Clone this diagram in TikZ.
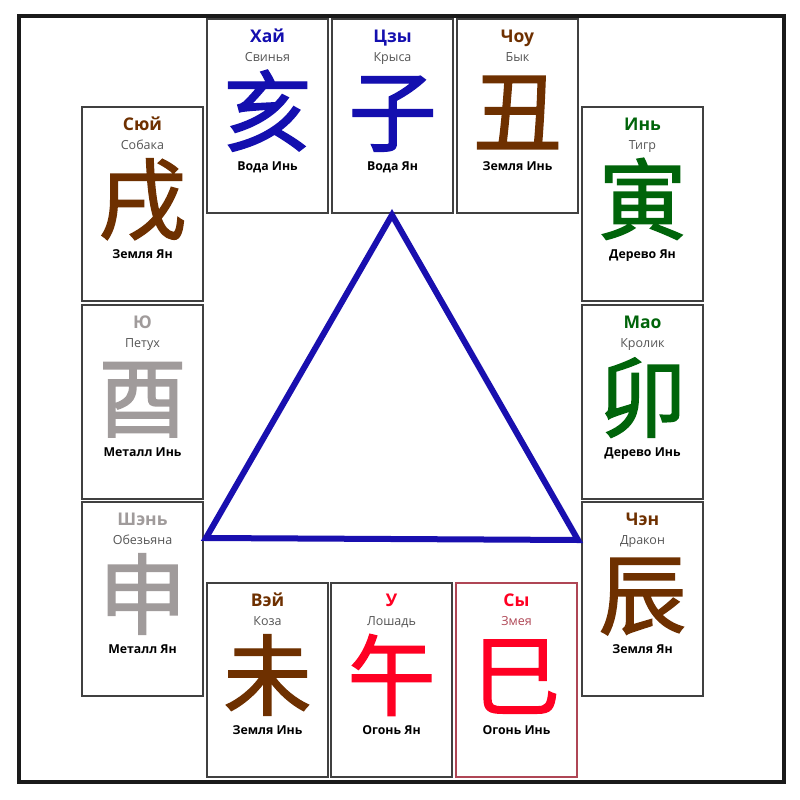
\documentclass[tikz,border=0pt]{standalone}
\usepackage{fontspec}
\setmainfont{Open Sans}
\newfontfamily\cjk{Noto Sans CJK SC}[FakeBold=1.6]
\definecolor{zblue}{RGB}{20,15,175}
\definecolor{zbrown}{RGB}{110,48,0}
\definecolor{zgreen}{RGB}{0,100,10}
\definecolor{zgray}{RGB}{160,155,155}
\definecolor{zred}{RGB}{255,0,35}
\definecolor{zsub}{RGB}{85,85,85}
\definecolor{zsnake}{RGB}{175,70,85}
\definecolor{ztri}{RGB}{25,15,175}
\definecolor{zframe}{RGB}{26,26,26}
\tikzset{
  cardbox/.style={draw=black!75, line width=1.1pt, fill=white, inner sep=0pt,
    minimum width=121pt, minimum height=194pt},
  titletxt/.style={anchor=base, inner sep=0pt, font=\fontsize{17.5}{20}\selectfont\bfseries},
  subtxt/.style={anchor=base, inner sep=0pt, text=zsub, font=\fontsize{12.5}{15}\selectfont},
  chartxt/.style={anchor=base, inner sep=0pt, font=\fontsize{88}{90}\selectfont\cjk},
  labeltxt/.style={anchor=base, inner sep=0pt, text=black, font=\fontsize{12.3}{14}\selectfont\bfseries},
  framebox/.style={draw=zframe, line width=4pt},
  triline/.style={draw=ztri, line width=6pt, line join=miter},
}
% [#1 box style] #2 id, #3 x, #4 y, #5 colour, #6 title, #7 subtitle, #8 character, #9 label
\newcommand\zcard[9][]{%
  \node[cardbox,#1] (#2) at ({#3+60.5},{#4+97}) {};
  \node[titletxt, text=#5] (#2-t) at ([yshift=-24pt]#2.north) {#6};
  \node[subtxt] (#2-s) at ([yshift=-42.7pt]#2.north) {#7};
  \node[chartxt, text=#5] (#2-c) at ([yshift=-126pt]#2.north) {#8};
  \node[labeltxt] (#2-l) at ([yshift=-151.7pt]#2.north) {#9};
}
\begin{document}
\begin{tikzpicture}[x=1pt,y=-1pt]
\useasboundingbox (0,0) rectangle (800,800);
\fill[white] (0,0) rectangle (800,800);
\draw[framebox] (19,16) rectangle (784,782);
% top row
\zcard{hai}{207}{19}{zblue}{Хай}{Свинья}{亥}{Вода Инь}
\zcard{czy}{332}{19}{zblue}{Цзы}{Крыса}{子}{Вода Ян}
\zcard{chou}{457}{19}{zbrown}{Чоу}{Бык}{丑}{Земля Инь}
% left column
\zcard{syuy}{82}{107}{zbrown}{Сюй}{Собака}{戌}{Земля Ян}
\zcard{yu}{82}{305}{zgray}{Ю}{Петух}{酉}{Металл Инь}
\zcard{shen}{82}{502}{zgray}{Шэнь}{Обезьяна}{申}{Металл Ян}
% right column
\zcard{yin}{582}{107}{zgreen}{Инь}{Тигр}{寅}{Дерево Ян}
\zcard{mao}{582}{305}{zgreen}{Мао}{Кролик}{卯}{Дерево Инь}
\zcard{chen}{582}{502}{zbrown}{Чэн}{Дракон}{辰}{Земля Ян}
% bottom row
\zcard{vey}{207}{583}{zbrown}{Вэй}{Коза}{未}{Земля Инь}
\zcard{u}{331}{583}{zred}{У}{Лошадь}{午}{Огонь Ян}
\zcard[draw=zsnake]{sy}{456}{583}{zred}{Сы}{\textcolor{zsnake}{Змея}}{巳}{Огонь Инь}
% triangle
\coordinate (apex) at (392,215);
\coordinate (bl) at (206,538);
\coordinate (br) at (578,540);
\draw[triline] (apex) -- (bl) -- (br) -- cycle;
\end{tikzpicture}
\end{document}
